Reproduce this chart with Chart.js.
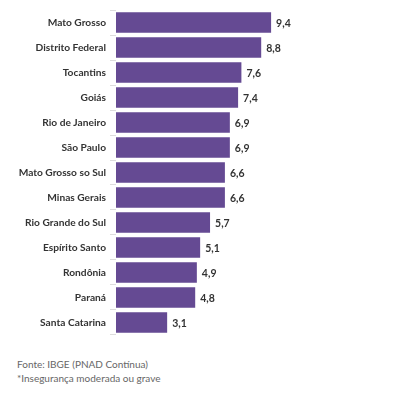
<!DOCTYPE html>
<html><head><meta charset="utf-8">
<script src="https://cdn.jsdelivr.net/npm/chart.js@4"></script>
<style>
html,body{margin:0;padding:0;background:#fff;width:400px;height:395px;overflow:hidden;}
#wrap{position:absolute;left:0;top:0;width:400px;height:345px;}
.foot{position:absolute;left:17px;font-family:Lato,"Open Sans",sans-serif;font-size:10px;color:#666;letter-spacing:0px;}
</style></head>
<body>
<div id="wrap"><canvas id="c"></canvas></div>
<div class="foot" style="top:358px">Fonte: IBGE (PNAD Contínua)</div>
<div class="foot" style="top:372px">*Insegurança moderada ou grave</div>
<script>
const categories = ["Mato Grosso","Distrito Federal","Tocantins","Goiás","Rio de Janeiro","São Paulo","Mato Grosso so Sul","Minas Gerais","Rio Grande do Sul","Espírito Santo","Rondônia","Paraná","Santa Catarina"];
const values = [9.4,8.8,7.6,7.4,6.9,6.9,6.6,6.6,5.7,5.1,4.9,4.8,3.1];

const valueLabels = {
  id:'valueLabels',
  afterDatasetsDraw(chart){
    const ctx = chart.ctx;
    const meta = chart.getDatasetMeta(0);
    ctx.save();
    ctx.font = 'bold 10.5px Lato, "Open Sans", sans-serif';
    ctx.fillStyle = '#333';
    ctx.textAlign = 'left';
    ctx.textBaseline = 'middle';
    meta.data.forEach((bar,i)=>{
      ctx.fillText(values[i].toFixed(1).replace('.',','), bar.x + 5, bar.y + 1);
    });
    ctx.restore();
  }
};

new Chart(document.getElementById('c'), {
  type:'bar',
  data:{labels:categories, datasets:[{data:values, backgroundColor:'#654a93', borderWidth:0, barPercentage:0.82, categoryPercentage:1}]},
  options:{
    indexAxis:'y',
    responsive:true, maintainAspectRatio:false, animation:false,
    layout:{padding:{left:0,right:119,top:0,bottom:4}},
    plugins:{legend:{display:false}, tooltip:{enabled:false}},
    scales:{
      x:{display:false, min:0, max:10},
      y:{
        afterFit(s){ s.width = 116; },
        border:{display:false},
        grid:{drawOnChartArea:false, drawTicks:true, tickLength:6, color:'#ddd'},
        ticks:{padding:4, color:'#333', font:{family:'Lato, "Open Sans", sans-serif', size:10.2, weight:'bold'}}
      }
    }
  },
  plugins:[valueLabels]
});
</script>
</body></html>
